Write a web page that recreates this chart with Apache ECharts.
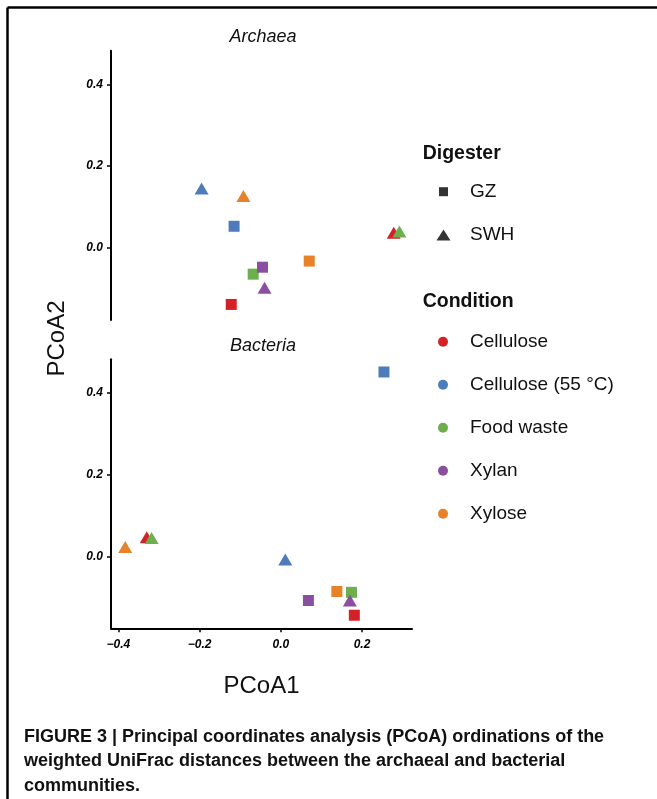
<!DOCTYPE html>
<html><head><meta charset="utf-8">
<script src="https://cdn.jsdelivr.net/npm/echarts@6/dist/echarts.min.js"></script>
<style>html,body{margin:0;padding:0;background:#fff}#c{width:657px;height:799px}</style>
</head><body><div id="c"></div>
<script>
// ---- data ----
const conditions = ['Cellulose', 'Cellulose (55 °C)', 'Food waste', 'Xylan', 'Xylose'];
const conditionColors = ['#D42127', '#4E7CBA', '#6CAF4C', '#8A4F9F', '#E8822A'];
const digesters = ['GZ', 'SWH'];
// [PCoA1, PCoA2] per condition (same order as conditions)
const archaeaGZ  = [[-0.122, -0.138], [-0.115, 0.053], [-0.068, -0.064], [-0.045, -0.047], [0.070, -0.032]];
const archaeaSWH = [[0.278, 0.037], [-0.195, 0.145], [0.292, 0.040], [-0.040, -0.097], [-0.092, 0.127]];
const bacteriaGZ  = [[0.181, -0.144], [0.254, 0.451], [0.174, -0.088], [0.068, -0.108], [0.138, -0.086]];
const bacteriaSWH = [[-0.330, 0.047], [0.011, -0.008], [-0.318, 0.045], [0.170, -0.108], [-0.383, 0.023]];
const xTicks = [-0.4, -0.2, 0.0, 0.2];
const yTicks = [0.0, 0.2, 0.4];

const FONT = '"Liberation Sans", Arial, Helvetica, sans-serif';
const fmt = v => (v < 0 ? '\u2212' : '') + Math.abs(v).toFixed(1);

function axisCommon(ticks) {
  return {
    type: 'value',
    axisLine: { show: true, onZero: false, lineStyle: { color: '#000', width: 2 } },
    axisTick: { show: true, length: 4, inside: false, customValues: ticks, lineStyle: { color: '#000', width: 1.5 } },
    axisLabel: { customValues: ticks, formatter: fmt, fontFamily: FONT, fontSize: 12, fontWeight: 'bold', fontStyle: 'italic', color: '#000' },
    splitLine: { show: false }
  };
}
function xAxis(gi, show) {
  const a = axisCommon(xTicks);
  a.gridIndex = gi; a.min = -0.418; a.max = 0.323; a.show = show;
  a.axisLabel.margin = 10;
  if (show) {
    a.name = 'PCoA1'; a.nameLocation = 'middle'; a.nameGap = 46;
    a.nameTextStyle = { fontFamily: FONT, fontSize: 24, color: '#111' };
  }
  return a;
}
function yAxis(gi) {
  const a = axisCommon(yTicks);
  a.gridIndex = gi; a.min = -0.176; a.max = 0.482;
  a.axisLabel.margin = 8;
  return a;
}

const series = [];
const panels = [[archaeaGZ, archaeaSWH], [bacteriaGZ, bacteriaSWH]];
panels.forEach((pair, gi) => {
  conditions.forEach((c, ci) => {
    series.push({
      type: 'scatter', name: c, xAxisIndex: gi, yAxisIndex: gi,
      itemStyle: { color: conditionColors[ci], opacity: 1 },
      symbol: (v) => v[2] === 'GZ' ? 'rect' : 'triangle',
      symbolSize: (v) => v[2] === 'GZ' ? [11, 11] : [14, 12],
      data: [pair[0][ci].concat(['GZ']), pair[1][ci].concat(['SWH'])],
      emphasis: { disabled: true }, silent: true, z: 2 + ci
    });
  });
});
series.push({ type: 'scatter', name: 'GZ', xAxisIndex: 0, yAxisIndex: 0, symbol: 'rect', itemStyle: { color: '#000' }, data: [] });
series.push({ type: 'scatter', name: 'SWH', xAxisIndex: 0, yAxisIndex: 0, symbol: 'triangle', itemStyle: { color: '#000' }, data: [] });

const legendText = { fontFamily: FONT, fontSize: 19, color: '#111', lineHeight: 43 };
function legend(data, icon, w, h, left, top, pad) {
  return {
    data: data, icon: icon, orient: 'vertical', left: left, top: top, padding: 0,
    itemWidth: w, itemHeight: h, itemGap: 0, selectedMode: false,
    textStyle: Object.assign({ padding: [0, 0, 0, pad] }, legendText)
  };
}

const option = {
  animation: false,
  backgroundColor: '#fff',
  grid: [
    { left: 111, top: 50.7, width: 301, height: 269.3 },
    { left: 111, top: 359.3, width: 301, height: 269 }
  ],
  xAxis: [xAxis(0, false), xAxis(1, true)],
  yAxis: [yAxis(0), yAxis(1)],
  legend: [
    legend(['GZ'], 'rect', 9, 9, 439, 191.7 - 21.5, 17),
    legend(['SWH'], 'triangle', 14, 11, 436.5, 235 - 21.5, 14.5),
    legend(conditions, 'circle', 10, 10, 438, 341.7 - 21.5, 17)
  ],
  series: series,
  graphic: [
    { type: 'line', shape: { x1: 7.5, y1: 7.5, x2: 657, y2: 7.5 }, style: { stroke: '#000', lineWidth: 2.5 } },
    { type: 'line', shape: { x1: 7.5, y1: 7.5, x2: 7.5, y2: 799 }, style: { stroke: '#000', lineWidth: 2.5 } },
    { type: 'text', x: 263, y: 37, style: { text: 'Archaea', fontFamily: FONT, fontSize: 18, fontStyle: 'italic', fill: '#111', textAlign: 'center', textVerticalAlign: 'middle' } },
    { type: 'text', x: 263, y: 346, style: { text: 'Bacteria', fontFamily: FONT, fontSize: 18, fontStyle: 'italic', fill: '#111', textAlign: 'center', textVerticalAlign: 'middle' } },
    { type: 'text', x: 57.5, y: 338.5, rotation: Math.PI / 2, style: { text: 'PCoA2', fontFamily: FONT, fontSize: 24, fill: '#111', textAlign: 'center', textVerticalAlign: 'middle' } },
    { type: 'text', x: 422.7, y: 153.3, style: { text: 'Digester', fontFamily: FONT, fontSize: 19.5, fontWeight: 'bold', fill: '#111', textAlign: 'left', textVerticalAlign: 'middle' } },
    { type: 'text', x: 422.7, y: 301.7, style: { text: 'Condition', fontFamily: FONT, fontSize: 19.5, fontWeight: 'bold', fill: '#111', textAlign: 'left', textVerticalAlign: 'middle' } },
    { type: 'text', x: 24, y: 724.5, style: {
      text: 'FIGURE 3 | Principal coordinates analysis (PCoA) ordinations of the\nweighted UniFrac distances between the archaeal and bacterial\ncommunities.',
      fontFamily: '"Liberation Sans Narrow", "Arial Narrow", "Liberation Sans", sans-serif', fontSize: 18, fontWeight: 'bold', fill: '#111', lineHeight: 24.5, textAlign: 'left', textVerticalAlign: 'top' } }
  ]
};
const chart = echarts.init(document.getElementById('c'), null, { renderer: 'canvas' });
chart.setOption(option);
</script>
</body></html>
